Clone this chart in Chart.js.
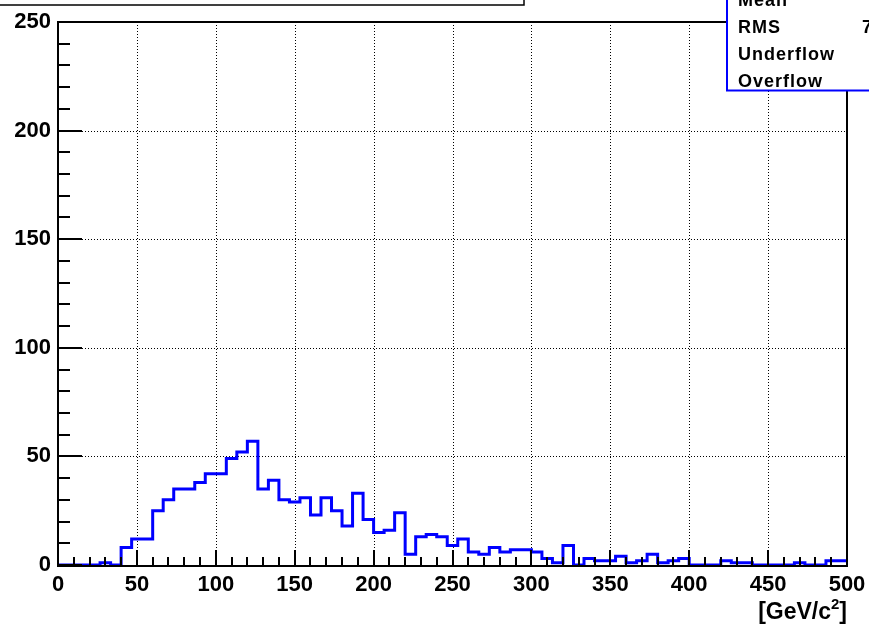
<!DOCTYPE html>
<html>
<head>
<meta charset="utf-8">
<script src="https://cdn.jsdelivr.net/npm/chart.js@4.4.1/dist/chart.umd.min.js"></script>
<style>
html,body{margin:0;padding:0;background:#fff;overflow:hidden}
#wrap{width:869px;height:628px;position:relative}
</style>
</head>
<body>
<div id="wrap"><canvas id="c" width="869" height="628"></canvas></div>
<script>
// ---- data ----
const xMin = 0;
const xMax = 500;
const nBins = 75;
const counts = [
  0, 0, 0, 0, 1, 0, 8, 12, 12, 25,
  30, 35, 35, 38, 42, 42, 49, 52, 57, 35,
  39, 30, 29, 31, 23, 31, 25, 18, 33, 21,
  15, 16, 24, 5, 13, 14, 13, 9, 12, 6,
  5, 8, 6, 7, 7, 6, 3, 1, 9, 0,
  3, 2, 2, 4, 1, 2, 5, 1, 2, 3,
  0, 0, 0, 2, 1, 1, 0, 0, 0, 0,
  1, 0, 0, 2, 2
];
const xTicks = [0, 50, 100, 150, 200, 250, 300, 350, 400, 450, 500];
const yTicks = [0, 50, 100, 150, 200, 250];
const minorStep = 10;
const xAxisTitle = ['[GeV/c', '2', ']'];
const statsLabels = ['Mean', 'RMS', 'Underflow', 'Overflow'];
const statsValues = ['', '72.41', '', ''];

// ---- build histogram outline points (bin edges) ----
const binW = (xMax - xMin) / nBins;
const points = counts.map((v, i) => ({ x: xMin + i * binW, y: v }));
points.push({ x: xMax, y: counts[counts.length - 1] });

const FONT = '"Liberation Sans", Arial, Helvetica, sans-serif';

function hline(ctx, x1, x2, y) { ctx.beginPath(); ctx.moveTo(x1, y); ctx.lineTo(x2, y); ctx.stroke(); }
function vline(ctx, x, y1, y2) { ctx.beginPath(); ctx.moveTo(x, y1); ctx.lineTo(x, y2); ctx.stroke(); }

const rootPlugin = {
  id: 'rootStyle',
  beforeInit(chart) {
    try { chart.ctx.letterSpacing = '1.5px'; } catch (e) {}
  },
  beforeDatasetsDraw(chart) {
    const { ctx, chartArea: a, scales: { x, y } } = chart;
    ctx.save();
    ctx.strokeStyle = '#000';
    ctx.lineWidth = 1;
    ctx.setLineDash([1, 2]);
    xTicks.forEach(v => {
      if (v > xMin && v < xMax) {
        const px = Math.round(x.getPixelForValue(v)) + 0.5;
        vline(ctx, px, a.top, a.bottom);
      }
    });
    yTicks.forEach(v => {
      if (v > yTicks[0] && v < yTicks[yTicks.length - 1]) {
        const py = Math.round(y.getPixelForValue(v)) + 0.5;
        hline(ctx, a.left, a.right, py);
      }
    });
    ctx.restore();
  },
  afterDatasetsDraw(chart) {
    const { ctx, chartArea: a, scales: { x, y } } = chart;
    ctx.save();
    ctx.strokeStyle = '#000';
    ctx.lineWidth = 2;
    // x ticks (pointing up into the frame)
    for (let v = xMin; v <= xMax; v += minorStep) {
      const px = Math.round(x.getPixelForValue(v));
      const major = xTicks.includes(v);
      vline(ctx, px, a.bottom, a.bottom - (major ? 15 : 8));
    }
    // y ticks (pointing right into the frame)
    const y0 = yTicks[0], y1 = yTicks[yTicks.length - 1];
    for (let v = y0; v <= y1; v += minorStep) {
      const py = Math.round(y.getPixelForValue(v));
      const major = yTicks.includes(v);
      hline(ctx, a.left, a.left + (major ? 24 : 12), py);
    }
    // frame
    ctx.lineWidth = 2;
    ctx.strokeRect(a.left, a.top, a.right - a.left, a.bottom + 1 - a.top);
    ctx.restore();
  },
  afterDraw(chart) {
    const { ctx } = chart;
    ctx.save();
    // title box (mostly outside the picture)
    ctx.fillStyle = '#fff';
    ctx.fillRect(-5, -30, 529, 35);
    ctx.strokeStyle = '#000';
    ctx.lineWidth = 1.5;
    ctx.strokeRect(-5, -30, 529, 35);

    // axis title "[GeV/c^2]"
    ctx.fillStyle = '#000';
    ctx.textBaseline = 'alphabetic';
    ctx.textAlign = 'left';
    const bigF = 'bold 23px ' + FONT, supF = 'bold 15px ' + FONT;
    ctx.font = bigF; const w1 = ctx.measureText(xAxisTitle[0]).width;
    ctx.font = supF; const w2 = ctx.measureText(xAxisTitle[1]).width;
    ctx.font = bigF; const w3 = ctx.measureText(xAxisTitle[2]).width;
    let tx = 847 - (w1 + w2 + w3);
    const base = 619;
    ctx.font = bigF; ctx.fillText(xAxisTitle[0], tx, base); tx += w1;
    ctx.font = supF; ctx.fillText(xAxisTitle[1], tx, base - 10); tx += w2;
    ctx.font = bigF; ctx.fillText(xAxisTitle[2], tx, base);

    // stats box
    ctx.fillStyle = '#fff';
    ctx.fillRect(727, -10, 160, 100.5);
    ctx.strokeStyle = '#0000ff';
    ctx.lineWidth = 2;
    ctx.strokeRect(727, -10, 160, 100.5);
    ctx.fillStyle = '#000';
    ctx.letterSpacing = '1px';
    ctx.font = 'bold 18px ' + FONT;
    const baselines = [6, 33, 60, 87];
    statsLabels.forEach((t, i) => {
      ctx.fillText(t, 738, baselines[i]);
      if (statsValues[i]) ctx.fillText(statsValues[i], 862, baselines[i]);
    });
    ctx.restore();
  }
};

new Chart(document.getElementById('c'), {
  type: 'line',
  data: {
    datasets: [{
      data: points,
      stepped: true,
      borderColor: '#0000ff',
      borderWidth: 3,
      pointRadius: 0,
      fill: false,
      tension: 0
    }]
  },
  options: {
    responsive: false,
    animation: false,
    devicePixelRatio: 1,
    layout: { padding: { left: 0, right: 22, top: 22, bottom: 0 } },
    plugins: { legend: { display: false }, tooltip: { enabled: false }, title: { display: false } },
    scales: {
      x: {
        type: 'linear',
        min: xMin,
        max: xMax,
        afterBuildTicks: s => { s.ticks = xTicks.map(v => ({ value: v })); },
        afterFit: s => { s.height = 63; s.paddingLeft = 0; s.paddingRight = 0; },
        grid: { display: false, drawTicks: false },
        border: { display: false },
        ticks: {
          autoSkip: false, maxRotation: 0, padding: 7,
          color: '#000',
          font: { family: FONT, size: 22, weight: 'bold' }
        }
      },
      y: {
        type: 'linear',
        min: yTicks[0],
        max: yTicks[yTicks.length - 1],
        afterBuildTicks: s => { s.ticks = yTicks.map(v => ({ value: v })); },
        afterFit: s => { s.width = 58; s.paddingTop = 0; s.paddingBottom = 0; },
        grid: { display: false, drawTicks: false },
        border: { display: false },
        ticks: {
          autoSkip: false, padding: 7,
          color: '#000',
          font: { family: FONT, size: 22, weight: 'bold' }
        }
      }
    }
  },
  plugins: [rootPlugin]
});
</script>
</body>
</html>
